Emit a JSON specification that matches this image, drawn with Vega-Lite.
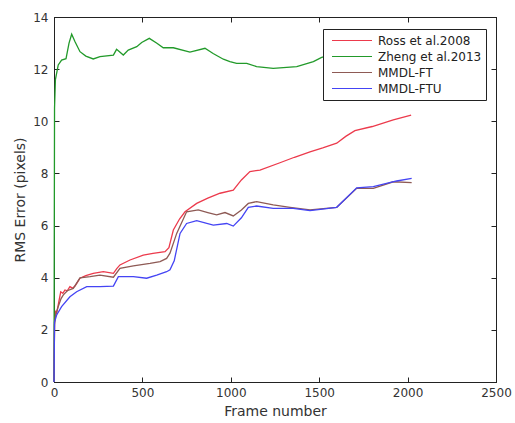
{
  "$schema": "https://vega.github.io/schema/vega-lite/v6.json",
  "width": 442,
  "height": 365,
  "autosize": {"type": "none"},
  "padding": {"left": 54, "top": 17, "right": 19, "bottom": 41},
  "background": "white",
  "config": {
    "font": "DejaVu Sans",
    "view": {"stroke": "black", "strokeWidth": 1},
    "axis": {
      "grid": false,
      "domainColor": "#222",
      "tickColor": "#222",
      "tickSize": -5,
      "labelColor": "#333",
      "titleColor": "#333",
      "labelFontSize": 12,
      "titleFontSize": 14,
      "titleFontWeight": "normal",
      "labelFont": "DejaVu Sans",
      "titleFont": "DejaVu Sans"
    }
  },
  "datasets": {
    "curves": [
      {"method": "Ross et al.2008", "frame": 0, "rmse": 0},
      {"method": "Ross et al.2008", "frame": 3, "rmse": 2.3},
      {"method": "Ross et al.2008", "frame": 8, "rmse": 2.7},
      {"method": "Ross et al.2008", "frame": 15, "rmse": 2.63},
      {"method": "Ross et al.2008", "frame": 25, "rmse": 3.0},
      {"method": "Ross et al.2008", "frame": 38, "rmse": 3.46},
      {"method": "Ross et al.2008", "frame": 50, "rmse": 3.4},
      {"method": "Ross et al.2008", "frame": 62, "rmse": 3.53},
      {"method": "Ross et al.2008", "frame": 75, "rmse": 3.5},
      {"method": "Ross et al.2008", "frame": 90, "rmse": 3.66},
      {"method": "Ross et al.2008", "frame": 105, "rmse": 3.6},
      {"method": "Ross et al.2008", "frame": 119, "rmse": 3.68},
      {"method": "Ross et al.2008", "frame": 135, "rmse": 3.85},
      {"method": "Ross et al.2008", "frame": 147, "rmse": 3.98},
      {"method": "Ross et al.2008", "frame": 180, "rmse": 4.08},
      {"method": "Ross et al.2008", "frame": 222, "rmse": 4.17},
      {"method": "Ross et al.2008", "frame": 279, "rmse": 4.23},
      {"method": "Ross et al.2008", "frame": 336, "rmse": 4.17},
      {"method": "Ross et al.2008", "frame": 355, "rmse": 4.35},
      {"method": "Ross et al.2008", "frame": 373, "rmse": 4.49},
      {"method": "Ross et al.2008", "frame": 430, "rmse": 4.68},
      {"method": "Ross et al.2008", "frame": 505, "rmse": 4.87},
      {"method": "Ross et al.2008", "frame": 560, "rmse": 4.93},
      {"method": "Ross et al.2008", "frame": 628, "rmse": 5.0},
      {"method": "Ross et al.2008", "frame": 650, "rmse": 5.15},
      {"method": "Ross et al.2008", "frame": 675, "rmse": 5.83},
      {"method": "Ross et al.2008", "frame": 710, "rmse": 6.25},
      {"method": "Ross et al.2008", "frame": 741, "rmse": 6.53},
      {"method": "Ross et al.2008", "frame": 807, "rmse": 6.85},
      {"method": "Ross et al.2008", "frame": 870, "rmse": 7.05},
      {"method": "Ross et al.2008", "frame": 939, "rmse": 7.24},
      {"method": "Ross et al.2008", "frame": 1014, "rmse": 7.36},
      {"method": "Ross et al.2008", "frame": 1060, "rmse": 7.75},
      {"method": "Ross et al.2008", "frame": 1108, "rmse": 8.07},
      {"method": "Ross et al.2008", "frame": 1165, "rmse": 8.13},
      {"method": "Ross et al.2008", "frame": 1278, "rmse": 8.41},
      {"method": "Ross et al.2008", "frame": 1360, "rmse": 8.62},
      {"method": "Ross et al.2008", "frame": 1448, "rmse": 8.83},
      {"method": "Ross et al.2008", "frame": 1520, "rmse": 8.98},
      {"method": "Ross et al.2008", "frame": 1599, "rmse": 9.16},
      {"method": "Ross et al.2008", "frame": 1650, "rmse": 9.42},
      {"method": "Ross et al.2008", "frame": 1702, "rmse": 9.64},
      {"method": "Ross et al.2008", "frame": 1800, "rmse": 9.8},
      {"method": "Ross et al.2008", "frame": 1919, "rmse": 10.05},
      {"method": "Ross et al.2008", "frame": 2020, "rmse": 10.24},

      {"method": "Zheng et al.2013", "frame": 0, "rmse": 0},
      {"method": "Zheng et al.2013", "frame": 3, "rmse": 10.5},
      {"method": "Zheng et al.2013", "frame": 8, "rmse": 11.6},
      {"method": "Zheng et al.2013", "frame": 24, "rmse": 12.16},
      {"method": "Zheng et al.2013", "frame": 43, "rmse": 12.35},
      {"method": "Zheng et al.2013", "frame": 68, "rmse": 12.4},
      {"method": "Zheng et al.2013", "frame": 85, "rmse": 13.0},
      {"method": "Zheng et al.2013", "frame": 100, "rmse": 13.34},
      {"method": "Zheng et al.2013", "frame": 119, "rmse": 13.05},
      {"method": "Zheng et al.2013", "frame": 147, "rmse": 12.67},
      {"method": "Zheng et al.2013", "frame": 180, "rmse": 12.5},
      {"method": "Zheng et al.2013", "frame": 222, "rmse": 12.39},
      {"method": "Zheng et al.2013", "frame": 260, "rmse": 12.48},
      {"method": "Zheng et al.2013", "frame": 336, "rmse": 12.54},
      {"method": "Zheng et al.2013", "frame": 354, "rmse": 12.76},
      {"method": "Zheng et al.2013", "frame": 392, "rmse": 12.54},
      {"method": "Zheng et al.2013", "frame": 420, "rmse": 12.73},
      {"method": "Zheng et al.2013", "frame": 468, "rmse": 12.86},
      {"method": "Zheng et al.2013", "frame": 496, "rmse": 13.02},
      {"method": "Zheng et al.2013", "frame": 539, "rmse": 13.18},
      {"method": "Zheng et al.2013", "frame": 580, "rmse": 13.0},
      {"method": "Zheng et al.2013", "frame": 618, "rmse": 12.82},
      {"method": "Zheng et al.2013", "frame": 675, "rmse": 12.82},
      {"method": "Zheng et al.2013", "frame": 769, "rmse": 12.65},
      {"method": "Zheng et al.2013", "frame": 854, "rmse": 12.8},
      {"method": "Zheng et al.2013", "frame": 900, "rmse": 12.6},
      {"method": "Zheng et al.2013", "frame": 958, "rmse": 12.38},
      {"method": "Zheng et al.2013", "frame": 995, "rmse": 12.29},
      {"method": "Zheng et al.2013", "frame": 1033, "rmse": 12.22},
      {"method": "Zheng et al.2013", "frame": 1090, "rmse": 12.22},
      {"method": "Zheng et al.2013", "frame": 1146, "rmse": 12.1},
      {"method": "Zheng et al.2013", "frame": 1240, "rmse": 12.03},
      {"method": "Zheng et al.2013", "frame": 1373, "rmse": 12.1},
      {"method": "Zheng et al.2013", "frame": 1467, "rmse": 12.29},
      {"method": "Zheng et al.2013", "frame": 1514, "rmse": 12.45},
      {"method": "Zheng et al.2013", "frame": 1600, "rmse": 12.6},
      {"method": "Zheng et al.2013", "frame": 1800, "rmse": 12.7},
      {"method": "Zheng et al.2013", "frame": 2020, "rmse": 12.8},

      {"method": "MMDL-FT", "frame": 0, "rmse": 0},
      {"method": "MMDL-FT", "frame": 3, "rmse": 2.2},
      {"method": "MMDL-FT", "frame": 10, "rmse": 2.6},
      {"method": "MMDL-FT", "frame": 24, "rmse": 2.89},
      {"method": "MMDL-FT", "frame": 40, "rmse": 3.2},
      {"method": "MMDL-FT", "frame": 53, "rmse": 3.34},
      {"method": "MMDL-FT", "frame": 75, "rmse": 3.5},
      {"method": "MMDL-FT", "frame": 109, "rmse": 3.59},
      {"method": "MMDL-FT", "frame": 147, "rmse": 3.99},
      {"method": "MMDL-FT", "frame": 204, "rmse": 4.04},
      {"method": "MMDL-FT", "frame": 260, "rmse": 4.1},
      {"method": "MMDL-FT", "frame": 336, "rmse": 4.02},
      {"method": "MMDL-FT", "frame": 373, "rmse": 4.36},
      {"method": "MMDL-FT", "frame": 449, "rmse": 4.45},
      {"method": "MMDL-FT", "frame": 543, "rmse": 4.55},
      {"method": "MMDL-FT", "frame": 600, "rmse": 4.62},
      {"method": "MMDL-FT", "frame": 637, "rmse": 4.74},
      {"method": "MMDL-FT", "frame": 656, "rmse": 4.94},
      {"method": "MMDL-FT", "frame": 694, "rmse": 5.7},
      {"method": "MMDL-FT", "frame": 750, "rmse": 6.53},
      {"method": "MMDL-FT", "frame": 816, "rmse": 6.6},
      {"method": "MMDL-FT", "frame": 870, "rmse": 6.5},
      {"method": "MMDL-FT", "frame": 920, "rmse": 6.41},
      {"method": "MMDL-FT", "frame": 967, "rmse": 6.5},
      {"method": "MMDL-FT", "frame": 1014, "rmse": 6.37},
      {"method": "MMDL-FT", "frame": 1060, "rmse": 6.6},
      {"method": "MMDL-FT", "frame": 1099, "rmse": 6.85},
      {"method": "MMDL-FT", "frame": 1146, "rmse": 6.92},
      {"method": "MMDL-FT", "frame": 1240, "rmse": 6.79},
      {"method": "MMDL-FT", "frame": 1335, "rmse": 6.7},
      {"method": "MMDL-FT", "frame": 1448, "rmse": 6.6},
      {"method": "MMDL-FT", "frame": 1599, "rmse": 6.7},
      {"method": "MMDL-FT", "frame": 1712, "rmse": 7.43},
      {"method": "MMDL-FT", "frame": 1806, "rmse": 7.43},
      {"method": "MMDL-FT", "frame": 1919, "rmse": 7.68},
      {"method": "MMDL-FT", "frame": 2023, "rmse": 7.65},

      {"method": "MMDL-FTU", "frame": 0, "rmse": 0},
      {"method": "MMDL-FTU", "frame": 3, "rmse": 2.3},
      {"method": "MMDL-FTU", "frame": 15, "rmse": 2.57},
      {"method": "MMDL-FTU", "frame": 43, "rmse": 2.89},
      {"method": "MMDL-FTU", "frame": 90, "rmse": 3.27},
      {"method": "MMDL-FTU", "frame": 128, "rmse": 3.46},
      {"method": "MMDL-FTU", "frame": 185, "rmse": 3.66},
      {"method": "MMDL-FTU", "frame": 260, "rmse": 3.66},
      {"method": "MMDL-FTU", "frame": 336, "rmse": 3.68},
      {"method": "MMDL-FTU", "frame": 364, "rmse": 4.04},
      {"method": "MMDL-FTU", "frame": 449, "rmse": 4.04},
      {"method": "MMDL-FTU", "frame": 524, "rmse": 3.98},
      {"method": "MMDL-FTU", "frame": 581, "rmse": 4.1},
      {"method": "MMDL-FTU", "frame": 637, "rmse": 4.23},
      {"method": "MMDL-FTU", "frame": 656, "rmse": 4.3},
      {"method": "MMDL-FTU", "frame": 680, "rmse": 4.65},
      {"method": "MMDL-FTU", "frame": 713, "rmse": 5.7},
      {"method": "MMDL-FTU", "frame": 750, "rmse": 6.08},
      {"method": "MMDL-FTU", "frame": 807, "rmse": 6.19},
      {"method": "MMDL-FTU", "frame": 901, "rmse": 6.02},
      {"method": "MMDL-FTU", "frame": 977, "rmse": 6.08},
      {"method": "MMDL-FTU", "frame": 1014, "rmse": 5.98},
      {"method": "MMDL-FTU", "frame": 1060, "rmse": 6.3},
      {"method": "MMDL-FTU", "frame": 1099, "rmse": 6.7},
      {"method": "MMDL-FTU", "frame": 1146, "rmse": 6.75},
      {"method": "MMDL-FTU", "frame": 1240, "rmse": 6.66},
      {"method": "MMDL-FTU", "frame": 1353, "rmse": 6.66},
      {"method": "MMDL-FTU", "frame": 1448, "rmse": 6.57},
      {"method": "MMDL-FTU", "frame": 1599, "rmse": 6.7},
      {"method": "MMDL-FTU", "frame": 1712, "rmse": 7.45},
      {"method": "MMDL-FTU", "frame": 1806, "rmse": 7.49},
      {"method": "MMDL-FTU", "frame": 1938, "rmse": 7.71},
      {"method": "MMDL-FTU", "frame": 2023, "rmse": 7.81}
    ]
  },
  "data": {"name": "curves"},
  "layer": [
    {
      "mark": {"type": "line", "strokeWidth": 1.3, "interpolate": "linear"},
      "encoding": {
        "x": {
          "field": "frame", "type": "quantitative",
          "scale": {"domain": [0, 2500], "nice": false},
          "axis": {"values": [0, 500, 1000, 1500, 2000, 2500], "format": "d", "title": "Frame number", "labelPadding": 10, "titlePadding": 6, "labelFlush": false}
        },
        "y": {
          "field": "rmse", "type": "quantitative",
          "scale": {"domain": [0, 14], "nice": false},
          "axis": {"values": [0, 2, 4, 6, 8, 10, 12, 14], "format": "d", "title": "RMS Error (pixels)", "labelPadding": 11, "titlePadding": 5}
        },
        "color": {
          "field": "method", "type": "nominal",
          "scale": {
            "domain": ["Ross et al.2008", "Zheng et al.2013", "MMDL-FT", "MMDL-FTU"],
            "range": ["#ec3a4c", "#229a2a", "#8e5a55", "#4444f4"]
          },
          "legend": {
            "title": null,
            "orient": "none",
            "legendX": 269,
            "legendY": 12,
            "symbolType": "stroke",
            "symbolSize": 1600,
            "symbolStrokeWidth": 1.2,
            "symbolOffset": 4,
            "clipHeight": 15,
            "rowPadding": 1,
            "labelFontSize": 12,
            "labelColor": "#222",
            "labelOffset": 5,
            "padding": 4,
            "strokeColor": "#222",
            "fillColor": "white"
          }
        },
        "order": {"field": "frame", "type": "quantitative"}
      }
    },
    {
      "mark": {"type": "line", "strokeOpacity": 0},
      "encoding": {
        "x": {"field": "frame", "type": "quantitative", "axis": {"orient": "top", "labels": false, "title": null, "values": [0, 500, 1000, 1500, 2000, 2500]}},
        "y": {"field": "rmse", "type": "quantitative", "axis": {"orient": "right", "labels": false, "title": null, "values": [0, 2, 4, 6, 8, 10, 12, 14]}},
        "detail": {"field": "method"}
      }
    }
  ],
  "resolve": {"axis": {"x": "independent", "y": "independent"}}
}
